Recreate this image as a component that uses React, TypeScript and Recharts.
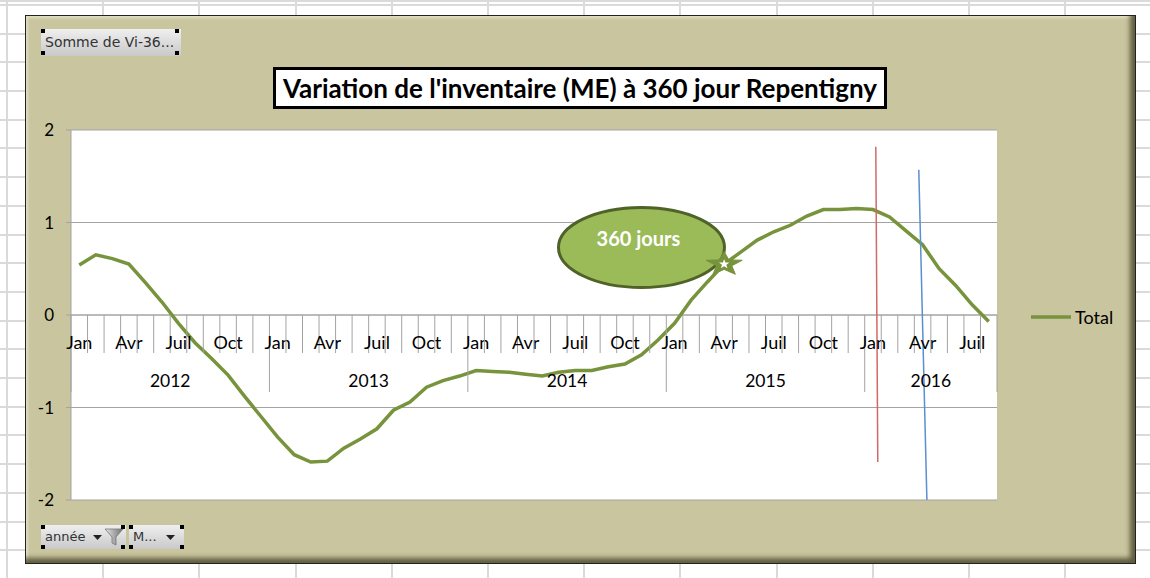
import React from 'react';
import {
  ComposedChart,
  Line,
  XAxis,
  YAxis,
  CartesianGrid,
  ReferenceLine,
  ReferenceDot,
  Legend,
} from 'recharts';

// ---------- data ----------
const years = [2012, 2013, 2014, 2015, 2016];
const monthsPerYear = [12, 12, 12, 12, 8];
const monthNames = ['Jan', 'Fév', 'Mar', 'Avr', 'Mai', 'Juin', 'Juil', 'Aoû', 'Sep', 'Oct', 'Nov', 'Déc'];
const shownMonths = ['Jan', 'Avr', 'Juil', 'Oct'];
const totalValues = [
  0.54, 0.65, 0.61, 0.55, 0.35, 0.14, -0.09, -0.3, -0.47, -0.65, -0.88, -1.1,
  -1.32, -1.51, -1.59, -1.58, -1.44, -1.34, -1.23, -1.03, -0.94, -0.78, -0.71, -0.66,
  -0.6, -0.61, -0.62, -0.64, -0.66, -0.62, -0.6, -0.6, -0.56, -0.53, -0.43, -0.27,
  -0.09, 0.16, 0.36, 0.55, 0.68, 0.81, 0.9, 0.97, 1.07, 1.14, 1.14, 1.15,
  1.14, 1.06, 0.91, 0.76, 0.5, 0.32, 0.11, -0.07,
];
const yTicks = [-2, -1, 0, 1, 2];
const yDomain = [-2, 2];
const starPoint = { year: 2015, month: 'Avr' };
const callout = { year: 2014, month: 'Nov', y: 0.73, text: '360 jours' };
// positions on the month axis (0 = start of Jan 2012, 1 unit = 1 month)
const redLine = [
  { x: 48.67, y: 1.82 },
  { x: 48.79, y: -1.59 },
];
const blueLine = [
  { x: 51.27, y: 1.57 },
  { x: 51.76, y: -2 },
];
const titleText = "Variation de l'inventaire (ME) à 360 jour Repentigny";
const seriesName = 'Total';

type Row = { pos: number; year: number; m: number; month: string; count: number; total: number };
const data: Row[] = [];
{
  let i = 0;
  years.forEach((year, yi) => {
    for (let m = 0; m < monthsPerYear[yi]; m++) {
      data.push({ pos: i + 0.5, year, m, month: monthNames[m], count: monthsPerYear[yi], total: totalValues[i] });
      i++;
    }
  });
}
const xTicks = data.map((d) => d.pos);
const rowAt = (pos: number) => data.find((d) => Math.abs(d.pos - pos) < 1e-6);
const posOf = (year: number, month: string) =>
  (data.find((d) => d.year === year && d.month === month) as Row).pos;

// ---------- layout ----------
const W = 1150;
const H = 578;
const MARGIN = { top: 130, right: 153, left: 31, bottom: 48 };
const Y_AXIS_W = 40;
const X_AXIS_H = 30;
const PLOT_TOP = MARGIN.top;
const PLOT_H = H - MARGIN.top - MARGIN.bottom - X_AXIS_H;
const PLOT_W = W - MARGIN.left - Y_AXIS_W - MARGIN.right;
const ZERO_Y = PLOT_TOP + (PLOT_H * (yDomain[1] - 0)) / (yDomain[1] - yDomain[0]);
const HALF = PLOT_W / data.length / 2;
const AXIS = '#a3a3a3';
const GREEN = '#77933c';
const FONT = 'Lato, "Noto Sans", sans-serif';

const MonthTick = (props: any) => {
  const { x, payload } = props;
  const d = rowAt(Number(payload?.value));
  if (!d) return <g />;
  const left = x - HALF;
  const isYearStart = d.m === 0;
  const isLast = d === data[data.length - 1];
  return (
    <g>
      <line x1={left} x2={left} y1={ZERO_Y} y2={ZERO_Y + (isYearStart ? 77 : 38)} stroke={AXIS} strokeWidth={1} />
      {isLast && <line x1={x + HALF} x2={x + HALF} y1={ZERO_Y} y2={ZERO_Y + 77} stroke={AXIS} strokeWidth={1} />}
      {shownMonths.includes(d.month) && (
        <text x={x} y={ZERO_Y + 34} textAnchor="middle" fontSize={18} fontFamily={FONT} fill="#000">
          {d.month}
        </text>
      )}
      {d.m === Math.floor(d.count / 2) && (
        <text x={left} y={ZERO_Y + 72} textAnchor="middle" fontSize={17.5} fontFamily={FONT} fill="#000">
          {d.year}
        </text>
      )}
    </g>
  );
};

const starPts = (cx: number, cy: number, rx: number, ry: number, inner: number) => {
  const pts: string[] = [];
  for (let k = 0; k < 10; k++) {
    const a = -Math.PI / 2 + (k * Math.PI) / 5;
    const f = k % 2 === 0 ? 1 : inner;
    pts.push(`${cx + Math.cos(a) * rx * f},${cy + Math.sin(a) * ry * f}`);
  }
  return pts.join(' ');
};

const StarDot = (props: any) => {
  const { cx, cy, payload, index } = props;
  if (!payload || payload.pos !== posOf(starPoint.year, starPoint.month)) return <g key={`d${index}`} />;
  return (
    <g key={`d${index}`}>
      <polygon points={starPts(cx, cy, 19, 12.5, 0.42)} fill={GREEN} stroke={GREEN} strokeWidth={1} />
      <polygon points={starPts(cx, cy, 5.5, 5, 0.42)} fill="#fff" />
    </g>
  );
};

const CalloutShape = (props: any) => {
  const { cx, cy } = props;
  return (
    <g>
      <ellipse cx={cx} cy={cy} rx={83} ry={40} fill="#9bbb59" stroke="#4f6228" strokeWidth={3} />
      <text x={cx - 3} y={cy - 1} textAnchor="middle" fontSize={20} fontWeight="bold" fontFamily={FONT} fill="#fff">
        {callout.text}
      </text>
    </g>
  );
};

const LegendContent = () => (
  <div style={{ display: 'flex', alignItems: 'center', fontFamily: FONT, fontSize: 18, color: '#000' }}>
    <svg width={44} height={8} style={{ display: 'block' }}>
      <line x1={0} x2={40} y1={4} y2={4} stroke={GREEN} strokeWidth={3.5} />
    </svg>
    <span>{seriesName}</span>
  </div>
);

const Handle = ({ x, y }: { x: number; y: number }) => (
  <div style={{ position: 'absolute', left: x, top: y, width: 4, height: 4, background: '#000' }} />
);

const btnStyle: React.CSSProperties = {
  position: 'absolute',
  boxSizing: 'border-box',
  background: 'linear-gradient(#efefef, #c9c9c9)',
  fontFamily: '"DejaVu Sans", sans-serif',
  fontSize: 13,
  color: '#333',
  lineHeight: '24px',
  paddingLeft: 4,
  whiteSpace: 'nowrap',
};

const Arrow = ({ x, y }: { x: number; y: number }) => (
  <svg style={{ position: 'absolute', left: x, top: y }} width={9} height={5}>
    <polygon points="0,0 9,0 4.5,5" fill="#222" />
  </svg>
);

export default function App() {
  return (
    <div
      style={{
        position: 'absolute',
        left: 0,
        top: 0,
        width: W,
        height: H,
        overflow: 'hidden',
        backgroundColor: '#fff',
        backgroundImage:
          'repeating-linear-gradient(to right, #dadada 0px, #dadada 2px, transparent 2px, transparent 96.2px), repeating-linear-gradient(to bottom, #dadada 0px, #dadada 2px, transparent 2px, transparent 28.7px)',
        backgroundPosition: '6px 0px, 0px 4px',
      }}
    >
      <div
        style={{
          position: 'absolute',
          left: 25,
          top: 15,
          width: 1111,
          height: 549,
          boxSizing: 'border-box',
          background: '#c9c59e',
          border: '1px solid #222',
          boxShadow: 'inset -8px -8px 5px -3px rgba(70,66,40,0.8), inset 3px 3px 3px -1px rgba(255,255,240,0.45)',
        }}
      />
      {/* title */}
      <div
        style={{
          position: 'absolute',
          left: 273,
          top: 67,
          width: 614,
          height: 42,
          boxSizing: 'border-box',
          border: '3px solid #000',
          background: '#fff',
          fontFamily: FONT,
          fontWeight: 'bold',
          fontSize: 26,
          lineHeight: '36px',
          textAlign: 'center',
          color: '#000',
          whiteSpace: 'nowrap',
        }}
      >
        {titleText}
      </div>
      {/* pivot buttons */}
      <div style={{ ...btnStyle, left: 41, top: 29, width: 140, height: 27, lineHeight: '27px', fontSize: 14 }}>
        Somme de Vi-36...
      </div>
      <Handle x={41} y={29} />
      <Handle x={175} y={29} />
      <Handle x={41} y={51} />
      <Handle x={175} y={51} />
      <div style={{ ...btnStyle, left: 41, top: 525, width: 85, height: 24 }}>année</div>
      <Arrow x={93} y={535} />
      <svg style={{ position: 'absolute', left: 104, top: 527 }} width={20} height={19}>
        <defs>
          <linearGradient id="fun" x1="0" x2="1" y1="0" y2="0">
            <stop offset="0" stopColor="#e6e6e6" />
            <stop offset="1" stopColor="#6e6e6e" />
          </linearGradient>
        </defs>
        <polygon points="1,2 19,2 12,10 12,18 8,16 8,10" fill="url(#fun)" stroke="#777" strokeWidth={0.8} />
      </svg>
      <div style={{ ...btnStyle, left: 129, top: 525, width: 55, height: 24 }}>M...</div>
      <Arrow x={166} y={535} />
      <Handle x={41} y={525} />
      <Handle x={121} y={525} />
      <Handle x={41} y={545} />
      <Handle x={121} y={545} />
      <Handle x={129} y={525} />
      <Handle x={180} y={525} />
      <Handle x={129} y={545} />
      <Handle x={180} y={545} />

      <div style={{ position: 'absolute', left: 0, top: 0 }}>
        <ComposedChart width={W} height={H} data={data} margin={MARGIN}>
          <CartesianGrid horizontal vertical={false} stroke={AXIS} fill="#ffffff" />
          <XAxis
            dataKey="pos"
            type="number"
            domain={[0, data.length]}
            allowDataOverflow
            ticks={xTicks}
            interval={0}
            height={X_AXIS_H}
            axisLine={false}
            tickLine={false}
            tick={MonthTick}
          />
          <YAxis
            domain={yDomain}
            ticks={yTicks}
            width={Y_AXIS_W}
            tickSize={5}
            tickMargin={12}
            interval={0}
            axisLine={{ stroke: AXIS }}
            tickLine={{ stroke: AXIS }}
            tick={{ fill: '#000', fontSize: 17, fontFamily: FONT }}
          />
          <ReferenceLine y={0} stroke={AXIS} />
          <ReferenceDot
            x={posOf(callout.year, callout.month)}
            y={callout.y}
            r={0}
            ifOverflow="visible"
            shape={CalloutShape}
          />
          <Line
            type="linear"
            dataKey="total"
            name={seriesName}
            stroke={GREEN}
            strokeWidth={3.5}
            dot={StarDot}
            activeDot={false}
            isAnimationActive={false}
          />
          <ReferenceLine segment={redLine} stroke="#d06a68" strokeWidth={1.5} ifOverflow="visible" />
          <ReferenceLine segment={blueLine} stroke="#5b8fd0" strokeWidth={1.5} ifOverflow="visible" />
          <Legend
            layout="horizontal"
            verticalAlign="middle"
            align="center"
            wrapperStyle={{ left: 1031, top: 306, width: 110, height: 24 }}
            content={LegendContent}
          />
        </ComposedChart>
      </div>
    </div>
  );
}
